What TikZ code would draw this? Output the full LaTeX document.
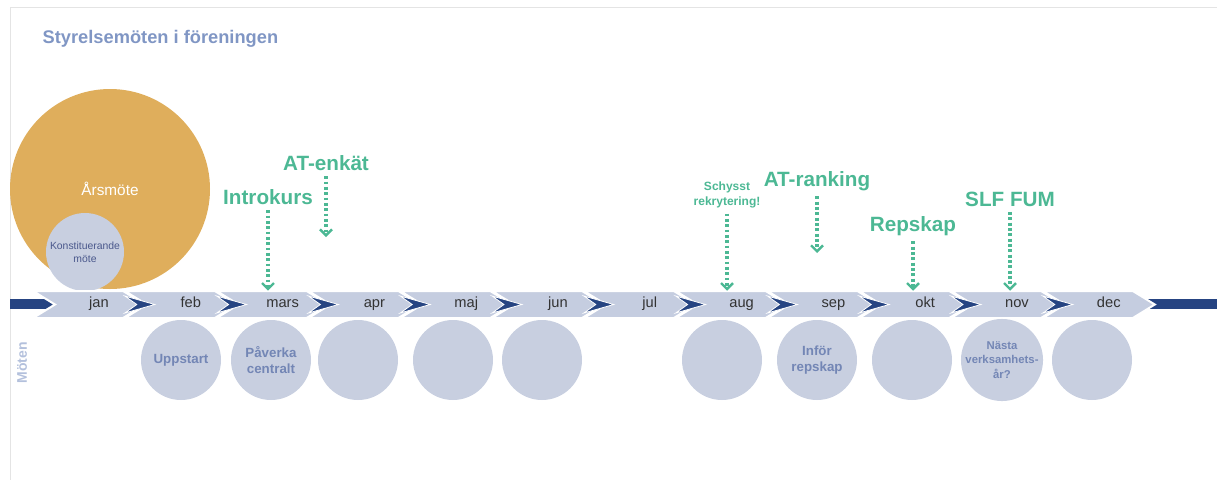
\documentclass[tikz,border=0pt]{standalone}
\usepackage{fontspec}
\setmainfont{Liberation Sans}
\usepackage{xcolor}
\definecolor{tlblue}{RGB}{38,68,130}
\definecolor{tlchev}{RGB}{197,205,224}
\definecolor{tlcircle}{RGB}{200,207,224}
\definecolor{tlorange}{RGB}{223,174,92}
\definecolor{tlgreen}{RGB}{76,184,148}
\definecolor{tltitle}{RGB}{128,150,196}
\definecolor{tltext}{RGB}{115,134,181}
\definecolor{tldark}{RGB}{74,88,140}
\definecolor{tlframe}{RGB}{228,228,228}
\usetikzlibrary{arrows.meta,positioning,calc}

\begin{document}
\begin{tikzpicture}[x=0.75pt,y=-0.75pt,
  chevron/.style={fill=tlchev,draw=white,line width=1.5pt,line join=miter},
  notch/.style={fill=tlblue,draw=white,line width=0.6pt},
  month/.style={minimum height=20.25pt,inner sep=0pt,text height=7.6pt,text depth=2.4pt,
    font=\fontsize{11}{13}\selectfont,text=black!80},
  meet/.style={circle,fill=tlcircle,minimum size=60pt,inner sep=0pt,align=center,text=tltext,
    font=\fontsize{10}{12}\selectfont\bfseries},
  event/.style={text=tlgreen,inner sep=1pt,font=\fontsize{15.5}{17}\selectfont\bfseries},
  eventarrow/.style={draw=tlgreen,line width=2.4pt,dash pattern=on 2.2pt off 1.8pt,
    -{Straight Barb[length=4.5pt,width=9pt,line width=1.8pt]},shorten <=3pt}]
  \useasboundingbox (0,0) rectangle (1217,480);
  % frame
  \draw[tlframe,line width=0.75pt] (10,480) -- (10,7) -- (1217,7);
  \node[anchor=west,text=tltitle,font=\fontsize{13.7}{16}\selectfont\bfseries] (title) at (38,39) {Styrelsemöten i föreningen};

  % annual meeting
  \node[circle,fill=tlorange,minimum size=150pt,inner sep=0pt,text=white,
    font=\fontsize{11.5}{13}\selectfont] (arsmote) at (110,189) {Årsmöte};
  \node[circle,fill=tlcircle,minimum size=58.5pt,inner sep=0pt,align=center,text=tldark,
    font=\fontsize{7.8}{10}\selectfont] (konst) at (85,252) {Konstituerande\\möte};

  % timeline
  \fill[tlblue] (10,299) rectangle (1217,309);
  \foreach \m [count=\i from 0] in {jan,feb,mars,apr,maj,jun,jul,aug,sep,okt,nov,dec} {
    \pgfmathsetmacro\xl{33+91.8*\i}
    \draw[chevron] (\xl,291) -- ++(90,0) -- ++(22,13.5) -- ++(-22,13.5) -- ++(-90,0) -- ++(22,-13.5) -- cycle;
    \ifnum\i>0
      \draw[notch] (\xl,296) -- (\xl+30,304.5) -- (\xl,313) -- (\xl+12,304.5) -- cycle;
    \fi
    \node[month] (\m) at (\xl+66,304.5) {\m};
  }

  % meetings
  \node[rotate=90,text=tltitle!60,font=\fontsize{10.5}{12}\selectfont\bfseries] (moten) at (22,363) {Möten};
  \node[meet] (mfeb) at (181,360) {Uppstart};
  \node[meet] (mmars) at (271,360) {Påverka\\centralt};
  \node[meet] (mapr) at (358,360) {};
  \node[meet] (mmaj) at (453,360) {};
  \node[meet] (mjun) at (542,360) {};
  \node[meet] (maug) at (722,360) {};
  \node[meet] (msep) at (817,360) {Inför\\repskap};
  \node[meet] (mokt) at (912,360) {};
  \node[meet,font=\fontsize{8.5}{11}\selectfont\bfseries] (mnov) at (1002,360) {Nästa\\verksamhets-\\år?};
  \node[meet] (mdec) at (1092,360) {};

  % events
  \node[event] (intro) at (268,197) {Introkurs};
  \node[event] (enkat) at (326,163) {AT-enkät};
  \node[event,align=center,font=\fontsize{9}{11}\selectfont\bfseries] (schysst) at (727,195) {Schysst\\rekrytering!};
  \node[event] (ranking) at (817,181) {AT-ranking};
  \node[event] (repskap) at (913,226) {Repskap};
  \node[event] (slf) at (1010,199) {SLF FUM};
  \coordinate (enkatend) at (326,237);
  \coordinate (rankingend) at (817,253);

  \draw[eventarrow] (intro.south) -- (intro.south |- mars.north);
  \draw[eventarrow] (enkat.south) -- (enkatend);
  \draw[eventarrow] (schysst.south) -- (schysst.south |- aug.north);
  \draw[eventarrow] (ranking.south) -- (rankingend);
  \draw[eventarrow] (repskap.south) -- (repskap.south |- okt.north);
  \draw[eventarrow] (slf.south) -- (slf.south |- nov.north);
\end{tikzpicture}
\end{document}
